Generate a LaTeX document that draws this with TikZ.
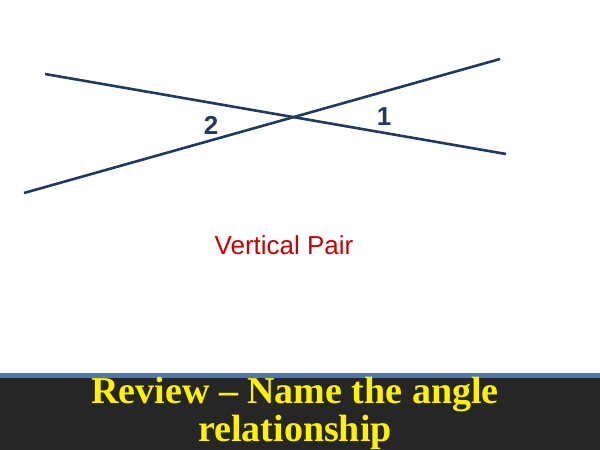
\documentclass[tikz,border=0pt]{standalone}
\usepackage{fontspec}
\setmainfont{Liberation Serif}
\newfontfamily\arial{Liberation Sans}
\definecolor{linec}{HTML}{1F3A60}
\definecolor{bar}{HTML}{262626}
\definecolor{stripe}{HTML}{4A78B0}
\begin{document}
\begin{tikzpicture}[x=1pt,y=-1pt,
  ln/.style={draw=linec,line width=2.6pt},
  lab/.style={font=\arial\bfseries\fontsize{26}{30}\selectfont,text=linec},
  ttl/.style={font=\bfseries\fontsize{38}{40}\selectfont,text=yellow}]
\useasboundingbox (0,0) rectangle (600,450);
\fill[white] (0,0) rectangle (600,450);
\coordinate (a1) at (45,74); \coordinate (a2) at (506,154);
\coordinate (b1) at (24,193); \coordinate (b2) at (500,59);
\draw[ln] (a1) -- (a2);
\draw[ln] (b1) -- (b2);
\node[lab] (n2) at (211,125) {2};
\node[lab] (n1) at (384,117) {1};
\node[font=\arial\fontsize{26}{30}\selectfont,text=red!80!black] (vp) at (284,245) {Vertical Pair};
\fill[stripe] (0,373) rectangle (600,378);
\fill[bar] (0,378) rectangle (600,450);
\node[ttl] (t1) at (295,395) {Review -- Name the angle};
\node[ttl] (t2) at (295,432) {relationship};
\end{tikzpicture}
\end{document}
